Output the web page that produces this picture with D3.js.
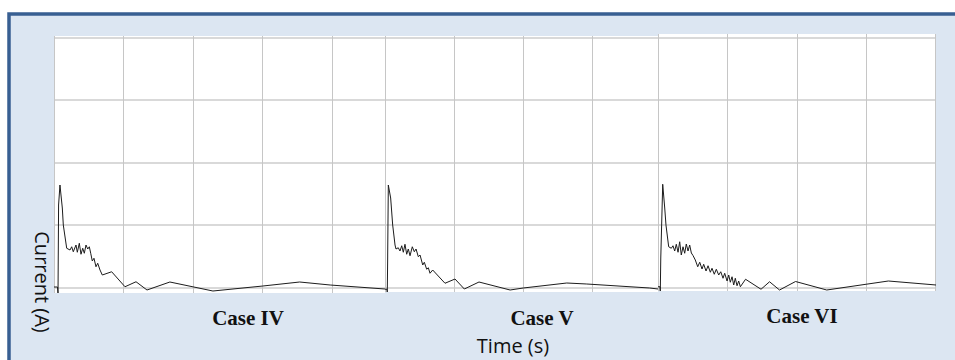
<!DOCTYPE html>
<html>
<head>
<meta charset="utf-8">
<title>Current traces</title>
<script src="https://cdn.jsdelivr.net/npm/d3@7"></script>
<style>
  body { margin: 0; background: #fff; }
  .grid line { stroke: #c6c6c6; shape-rendering: crispEdges; }
  .grid.h line { stroke: #d9d9d9; stroke-width: 2; }
  .grid path { display: none; }
  .trace { fill: none; stroke: #1c1c1c; stroke-width: 1; stroke-linejoin: round; }
  .case { font-family: "Liberation Serif", "Times New Roman", serif; font-weight: bold; font-size: 21px; fill: #111; }
  .axis-title { font-family: "Open Sans", sans-serif; font-size: 20px; fill: #111; }
</style>
</head>
<body>
<svg width="955" height="360"></svg>
<script>
// three captured current traces, time in s, current in A
var caseNames = ["Case IV", "Case V", "Case VI"];
var timeExtent = [0.477, 0.395, 0.401];
var timeTicks = [0, 0.1, 0.2, 0.3, 0.4];
var currentTicks = [0, 5, 10, 15, 20];

var timeIV = [0, 0.005, 0.0058, 0.0066, 0.0086, 0.012, 0.0134, 0.0183, 0.0231, 0.0255, 0.0278, 0.0317, 0.0336, 0.0365, 0.0389, 0.0414, 0.0437, 0.0461, 0.0486, 0.0509, 0.0529, 0.0552, 0.0576, 0.0605, 0.063, 0.0663, 0.0696, 0.0831, 0.1023, 0.1182, 0.134, 0.167, 0.229, 0.301, 0.354, 0.398, 0.477];
var currentIV = [0, 0, -0.52, 6.56, 8.16, 6.32, 4.96, 3.1, 2.96, 3.22, 2.82, 3.36, 2.78, 3.5, 2.62, 3.1, 2.7, 3.36, 3.04, 3.22, 2.7, 2.08, 2.3, 1.62, 1.9, 1.36, 0.96, 1.22, 0.02, 0.42, -0.24, 0.4, -0.32, 0.08, 0.4, 0.16, -0.16];

var timeV = [0, 0.0029, 0.0033, 0.0038, 0.0048, 0.0082, 0.0111, 0.0145, 0.0159, 0.0192, 0.0217, 0.0242, 0.0265, 0.0289, 0.0314, 0.0337, 0.0362, 0.0395, 0.0424, 0.0449, 0.0482, 0.0507, 0.0546, 0.0569, 0.0603, 0.0627, 0.0651, 0.069, 0.0868, 0.1013, 0.1148, 0.136, 0.181, 0.2, 0.263, 0.292, 0.383, 0.395];
var currentV = [-0.18, -0.18, -0.48, 2.0, 8.16, 7.12, 4.96, 3.36, 3.04, 3.14, 2.88, 3.3, 2.78, 3.42, 2.62, 3.04, 2.5, 3.22, 2.82, 3.04, 2.42, 2.56, 1.76, 1.98, 1.42, 1.54, 1.1, 1.36, 0.3, 0.64, -0.16, 0.4, -0.24, -0.08, 0.32, 0.24, -0.08, -0.16];

var timeVI = [0, 0.0029, 0.0033, 0.004, 0.0068, 0.0097, 0.0115, 0.0154, 0.0192, 0.0216, 0.0241, 0.0264, 0.0289, 0.0313, 0.0336, 0.0361, 0.0385, 0.0408, 0.0433, 0.0457, 0.0481, 0.0505, 0.0538, 0.0573, 0.0602, 0.0635, 0.0659, 0.0693, 0.0722, 0.0755, 0.0779, 0.0812, 0.0841, 0.0876, 0.0905, 0.0938, 0.0962, 0.0996, 0.102, 0.1043, 0.1068, 0.1092, 0.1115, 0.114, 0.1164, 0.1188, 0.1263, 0.1486, 0.1609, 0.1753, 0.1984, 0.2434, 0.3001, 0.3323, 0.4012];
var currentVI = [0.02, 0.02, -0.44, 2.32, 8.22, 6.32, 4.96, 3.22, 3.1, 3.3, 2.88, 3.42, 2.78, 3.62, 2.56, 3.22, 2.7, 3.44, 2.88, 3.36, 2.72, 2.52, 2.16, 1.62, 1.98, 1.44, 1.82, 1.28, 1.7, 1.18, 1.5, 1.02, 1.42, 0.96, 1.22, 0.7, 1.1, 0.48, 0.96, 0.38, 0.82, 0.16, 0.7, 0.1, 0.48, 0.02, 0.62, -0.18, 0.42, -0.24, 0.44, -0.24, 0.22, 0.48, 0.16];

var times = [timeIV, timeV, timeVI];
var currents = [currentIV, currentV, currentVI];

// panel boxes in page pixels
var panels = [
  { x0: 54, x1: 385, top: 36, bottom: 293, label: [248, 325] },
  { x0: 385, x1: 658, top: 36, bottom: 292, label: [542, 325] },
  { x0: 658, x1: 936, top: 34, bottom: 291, label: [802, 323] }
];

var svg = d3.select("svg");

// frame
svg.append("rect").attr("x", 9).attr("y", 14).attr("width", 960).attr("height", 360)
  .attr("fill", "#dce6f2").attr("stroke", "#385f92").attr("stroke-width", 3.5);

var y = d3.scaleLinear().domain([0, 20]).range([287, 37]);

panels.forEach(function(p, k) {
  var x = d3.scaleLinear().domain([0, timeExtent[k]]).range([p.x0, p.x1]);
  var g = svg.append("g");
  var clipId = "clip" + k;

  g.append("clipPath").attr("id", clipId).append("rect")
    .attr("x", p.x0).attr("y", p.top).attr("width", p.x1 - p.x0).attr("height", p.bottom - p.top);

  g.append("rect").attr("x", p.x0).attr("y", p.top)
    .attr("width", p.x1 - p.x0).attr("height", p.bottom - p.top)
    .attr("fill", "#fff");

  var inner = g.append("g").attr("clip-path", "url(#" + clipId + ")");

  inner.append("g").attr("class", "grid h")
    .attr("transform", "translate(" + p.x0 + ",0)")
    .call(d3.axisLeft(y).tickValues(currentTicks).tickSize(-(p.x1 - p.x0)).tickFormat(""));

  inner.append("g").attr("class", "grid v")
    .attr("transform", "translate(0," + p.bottom + ")")
    .call(d3.axisBottom(x).tickValues(timeTicks.filter(function(t) { return t <= timeExtent[k]; }))
      .tickSize(-(p.bottom - p.top)).tickFormat(""));

  var pts = times[k].map(function(t, i) { return [t, currents[k][i]]; });
  var line = d3.line().x(function(d) { return x(d[0]); }).y(function(d) { return y(d[1]); });
  inner.append("path").attr("class", "trace").attr("d", line(pts));

  g.append("text").attr("class", "case")
    .attr("x", p.label[0]).attr("y", p.label[1])
    .attr("text-anchor", "middle").text(caseNames[k]);
});

svg.append("text").attr("class", "axis-title")
  .attr("transform", "translate(35,282) rotate(90)")
  .attr("text-anchor", "middle").text("Current (A)");

svg.append("text").attr("class", "axis-title")
  .attr("x", 513).attr("y", 353).attr("text-anchor", "middle").text("Time (s)");
</script>
</body>
</html>
